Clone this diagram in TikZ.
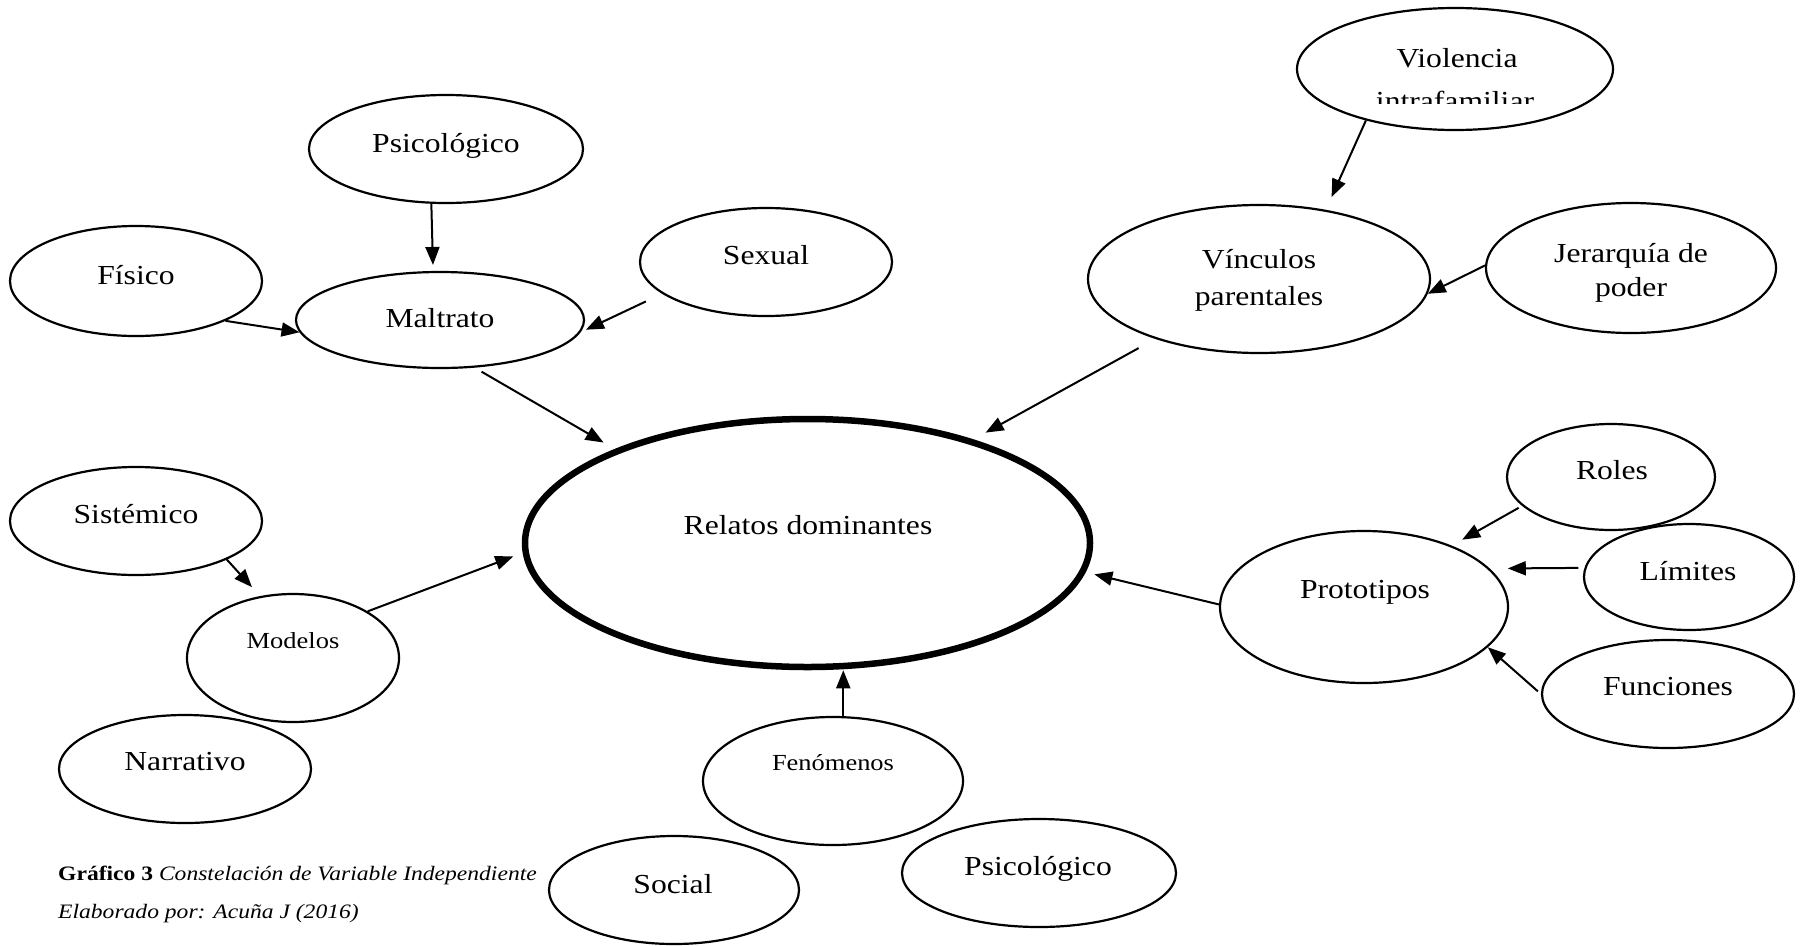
\documentclass[tikz,border=0pt]{standalone}
\usepackage{fontspec}
\setmainfont{Liberation Serif}[FakeStretch=1.15]
\usetikzlibrary{shapes.geometric,arrows.meta}
\begin{document}
\begin{tikzpicture}[x=1pt,y=-1pt,
  ell/.style={draw,ellipse,line width=2.2pt,inner sep=0pt},
  lbl/.style={font=\fontsize{27.5}{32}\selectfont,anchor=base,inner sep=0pt},
  slbl/.style={font=\fontsize{23}{27}\selectfont,anchor=base,inner sep=0pt},
  captxt/.style={font=\fontsize{20.5}{24}\selectfont,anchor=base west,inner sep=0pt},
  arr/.style={line width=2pt,-{Triangle[length=18pt,width=14pt]}}]
\useasboundingbox (0,0) rectangle (1811,945);

% ellipses
\node[ell,minimum width=274pt,minimum height=108pt] (psi) at (446,149) {};
\node[ell,minimum width=252pt,minimum height=110pt] (fis) at (136,281) {};
\node[ell,minimum width=288pt,minimum height=96pt] (malt) at (440,320) {};
\node[ell,minimum width=252pt,minimum height=108pt] (sex) at (766,262) {};
\node[ell,minimum width=316pt,minimum height=122pt] (viol) at (1455,69) {};
\node[ell,minimum width=342pt,minimum height=148pt] (vin) at (1259,279) {};
\node[ell,minimum width=290pt,minimum height=130pt] (jer) at (1631,268) {};
\node[ell,line width=6.5pt,minimum width=565pt,minimum height=248pt] (rel) at (807.5,543) {};
\node[ell,minimum width=252pt,minimum height=108pt] (sis) at (136,521) {};
\node[ell,minimum width=212pt,minimum height=128pt] (mod) at (293,658) {};
\node[ell,minimum width=252pt,minimum height=108pt] (nar) at (185,769) {};
\node[ell,minimum width=260pt,minimum height=128pt] (fen) at (833,781) {};
\node[ell,minimum width=250pt,minimum height=108pt] (soc) at (674,890) {};
\node[ell,minimum width=274pt,minimum height=108pt] (psib) at (1039,873) {};
\node[ell,minimum width=208pt,minimum height=106pt] (rol) at (1611,477) {};
\node[ell,minimum width=288pt,minimum height=152pt] (proto) at (1364,607) {};
\node[ell,minimum width=210pt,minimum height=106pt] (lim) at (1689,577) {};
\node[ell,minimum width=252pt,minimum height=108pt] (fun) at (1668,694) {};

% labels
\node[lbl] (tpsi) at (446,152) {Psicológico};
\node[lbl] (tfis) at (136,284) {Físico};
\node[lbl] (tmalt) at (440,327) {Maltrato};
\node[lbl] (tsex) at (766,264) {Sexual};
\node[lbl] (tviol1) at (1457,67) {Violencia};
\begin{scope}
\clip (1290,0) rectangle (1620,103);
\node[lbl] (tviol2) at (1455,110) {intrafamiliar};
\end{scope}
\node[lbl] (tvin1) at (1259,268) {Vínculos};
\node[lbl] (tvin2) at (1259,305) {parentales};
\node[lbl] (tjer1) at (1631,262) {Jerarquía de};
\node[lbl] (tjer2) at (1631,296) {poder};
\node[lbl] (trel) at (808,534) {Relatos dominantes};
\node[lbl] (tsis) at (136,523) {Sistémico};
\node[slbl] (tmod) at (293,648) {Modelos};
\node[lbl] (tnar) at (185,770) {Narrativo};
\node[slbl] (tfen) at (833,770) {Fenómenos};
\node[lbl] (tsoc) at (673,893) {Social};
\node[lbl] (tpsib) at (1038,875) {Psicológico};
\node[lbl] (trol) at (1612,479) {Roles};
\node[lbl] (tproto) at (1365,598) {Prototipos};
\node[lbl] (tlim) at (1688,580) {Límites};
\node[lbl] (tfun) at (1668,695) {Funciones};

% caption
\node[captxt] (cap1) at (58,880) {\textbf{Gráfico 3} \textit{Constelación de Variable Independiente}};
\node[captxt] (cap2) at (58,918) {\textit{Elaborado por: Acuña J (2016)}};

% connectors
\draw[arr,shorten >=6pt] (psi.255) -- (malt.98);
\draw[arr] (fis.336) -- (malt.185);
\draw[arr,shorten <=18pt,shorten >=6pt] (sex.197) -- (malt.355);
\draw[arr,shorten <=8pt,shorten >=13pt] (malt.306) -- (rel.154);
\draw[arr,shorten >=14pt] (viol.210) -- (vin.46);
\draw[arr] (jer.179) -- (vin.355);
\draw[arr,shorten <=19pt,shorten >=14pt] (vin.210) -- (rel.32);
\draw[arr,shorten >=12pt] (sis.337) -- (mod.118);
\draw[arr,shorten >=10pt] (mod.32) -- (rel.182);
\draw[arr] (fen.81.5) -- (fen.81.5 |- rel.south);
\draw[arr,shorten <=4pt,shorten >=12pt] (rol.198) -- (proto.35);
\draw[arr,shorten <=6pt,shorten >=18pt] (lim.175) -- (proto.17.5);
\draw[arr,shorten <=4pt] (fun.180) -- (proto.342);
\draw[arr,shorten >=9pt] (proto.179) -- (rel.354);
\end{tikzpicture}
\end{document}
